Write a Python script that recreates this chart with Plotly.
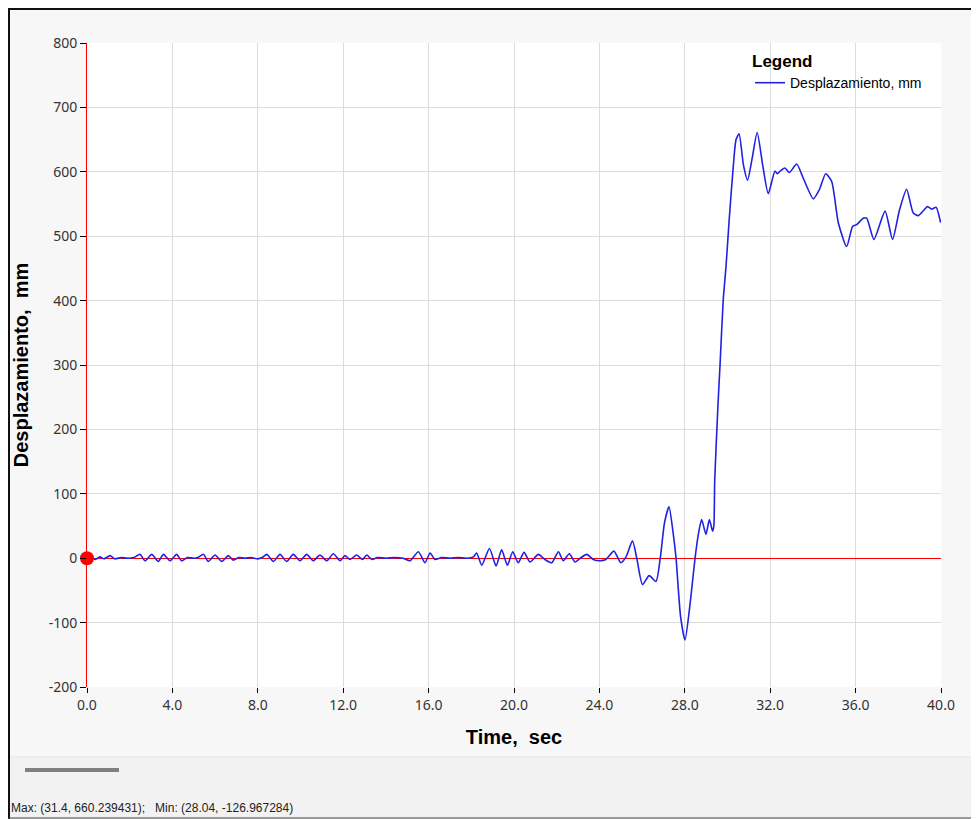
import plotly.graph_objects as go

# displacement record
time_s = [0.0, 0.2, 0.4, 0.6, 0.8, 1.08, 1.3, 1.6, 1.9, 2.2,
          2.48, 2.72, 3.03, 3.34, 3.58, 3.89, 4.2, 4.43, 4.7, 5.0,
          5.2, 5.45, 5.68, 6.0, 6.31, 6.62, 6.85, 7.1, 7.4, 7.7,
          8.0, 8.2, 8.42, 8.73, 9.04, 9.35, 9.66, 9.98, 10.29, 10.6,
          10.91, 11.23, 11.54, 11.85, 12.08, 12.32, 12.63, 12.9, 13.1, 13.35,
          13.6, 14.0, 14.4, 14.8, 15.13, 15.52, 15.83, 16.07, 16.3, 16.6,
          17.0, 17.4, 17.8, 18.1, 18.25, 18.49, 18.85, 19.16, 19.42, 19.69,
          19.94, 20.2, 20.47, 20.75, 21.14, 21.45, 21.77, 22.08, 22.31, 22.59,
          22.86, 23.1, 23.41, 23.71, 24.03, 24.3, 24.68, 25.0, 25.25, 25.55,
          25.75, 26.02, 26.33, 26.65, 26.85, 27.05, 27.26, 27.45, 27.59, 27.8,
          28.01, 28.25, 28.48, 28.65, 28.79, 28.99, 29.15, 29.3, 29.36, 29.4,
          29.55, 29.65, 29.8, 29.93, 30.08, 30.27, 30.4, 30.54, 30.75, 30.94,
          31.15, 31.39, 31.65, 31.91, 32.22, 32.34, 32.46, 32.69, 32.9, 33.24,
          33.55, 34.02, 34.3, 34.6, 34.88, 35.19, 35.58, 35.86, 36.05, 36.36,
          36.52, 36.86, 37.38, 37.73, 38.05, 38.39, 38.7, 38.94, 39.37, 39.56,
          39.77, 39.98]
desp_mm = [0, 1, -2, 2, -1, 4, -1, 1, 0, 1,
           6, -4, 6, -5, 6, -4, 6, -4, 1, 0,
           1, 6, -5, 5, -5, 4, -3, 1, 0, 1,
           -1, 1, 6, -5, 6, -5, 6, -4, 6, -4,
           5, -4, 7, -4, 4, -2, 5, -2, 5, -2,
           1, 0, 1, 0, -4, 10, -7, 8, -2, 1,
           0, 1, 0, 2, 8, -11, 15, -12, 13, -11,
           10, -7, 9, -6, 6, -2, -7, 10, -4, 7,
           -6, 0, 6, -2, -4, -2, 11, -7, 2, 27,
           0, -41, -27, -36, 0, 55, 80, 40, 0, -90,
           -127, -70, 0, 40, 60, 37, 60, 42, 50, 120,
           235, 300, 401, 453, 526, 608, 650, 659, 610, 587,
           620, 661, 610, 566, 601, 597, 601, 606, 599, 612,
           590, 558, 572, 597, 585, 521, 484, 515, 518, 528,
           528, 495, 539, 495, 540, 573, 536, 532, 546, 542,
           545, 521]

x_ticks = [0, 4, 8, 12, 16, 20, 24, 28, 32, 36, 40]
y_ticks = [-200, -100, 0, 100, 200, 300, 400, 500, 600, 700, 800]
max_pt = (31.4, 660.239431)
min_pt = (28.04, -126.967284)

# page is 979x819, the html body adds an 8px margin
OFF = 8
W, H = 979 - OFF, 819 - OFF
L, R, T, B = 79, 38, 35, 132
pw, ph = W - L - R, H - T - B


# page pixel -> paper coords
def px(x):
    return (x - OFF - L) / pw


def py(y):
    return (H - B - (y - OFF)) / ph


fig = go.Figure()

fig.add_trace(go.Scatter(x=time_s, y=desp_mm, mode="lines",
                         name="Desplazamiento, mm",
                         line=dict(color="#2121e0", width=1.6, shape="spline", smoothing=0.6)))

# red marker at origin
fig.add_trace(go.Scatter(x=[0], y=[0], mode="markers", showlegend=False, cliponaxis=False,
                         marker=dict(color="#ff0000", size=14)))

tick_font = dict(family="Noto Sans", size=14, color="#333333")

fig.update_xaxes(range=[0, 40], tickvals=x_ticks, tickformat=".1f",
                 showgrid=True, gridcolor="#dcdcdc", gridwidth=1,
                 zeroline=False, showline=False,
                 ticks="outside", ticklen=5, tickcolor="#000000",
                 tickfont=tick_font,
                 title=dict(text="<b>Time,\u00a0 sec</b>",
                            font=dict(family="Liberation Sans", size=20, color="#000000"),
                            standoff=17))

fig.update_yaxes(range=[-200, 800], tickvals=y_ticks, ticktext=[str(v) for v in y_ticks],
                 showgrid=True, gridcolor="#dcdcdc", gridwidth=1,
                 zeroline=True, zerolinecolor="#ff0000", zerolinewidth=1,
                 showline=True, linecolor="#ff0000", linewidth=1,
                 ticks="outside", ticklen=6, tickcolor="#000000",
                 tickfont=tick_font,
                 title=dict(text="<b>Desplazamiento,\u00a0 mm</b>",
                            font=dict(family="Liberation Sans", size=20, color="#000000"),
                            standoff=14))

shapes = [
    # lower status band
    dict(type="rect", xref="paper", yref="paper", x0=px(0), x1=px(990), y0=py(757), y1=py(830),
         fillcolor="#f2f2f2", line_width=0, layer="below"),
    dict(type="line", xref="paper", yref="paper", x0=px(8), x1=px(990), y0=py(757), y1=py(757),
         line=dict(color="#e6e6e6", width=1)),
    # scrollbar stub
    dict(type="line", xref="paper", yref="paper", x0=px(25), x1=px(119), y0=py(770), y1=py(770),
         line=dict(color="#808080", width=4)),
    # frame
    dict(type="line", xref="paper", yref="paper", x0=px(9), x1=px(9), y0=py(8), y1=py(830),
         line=dict(color="#111111", width=2)),
    dict(type="line", xref="paper", yref="paper", x0=px(8), x1=px(990), y0=py(9), y1=py(9),
         line=dict(color="#111111", width=2)),
    dict(type="line", xref="paper", yref="paper", x0=px(8), x1=px(990), y0=py(818), y1=py(818),
         line=dict(color="#444444", width=1)),
]

fig.add_annotation(xref="paper", yref="paper", x=px(9), y=py(808), xanchor="left", yanchor="middle",
                   showarrow=False,
                   text="Max: (%s, %s);&nbsp;&nbsp; Min: (%s, %s)" % (max_pt[0], max_pt[1], min_pt[0], min_pt[1]),
                   font=dict(family="Liberation Sans", size=12, color="#222222"))

fig.update_layout(
    width=W, height=H,
    margin=dict(l=L, r=R, t=T, b=B, autoexpand=False),
    paper_bgcolor="#f7f7f7",
    plot_bgcolor="#ffffff",
    shapes=shapes,
    legend=dict(x=px(750), y=py(45), xanchor="left", yanchor="top",
                bgcolor="rgba(0,0,0,0)", itemwidth=30,
                title=dict(text="<b>Legend</b>", side="top",
                           font=dict(family="Liberation Sans", size=17, color="#000000")),
                font=dict(family="Liberation Sans", size=14, color="#000000")),
)

fig.write_html("out.html")
